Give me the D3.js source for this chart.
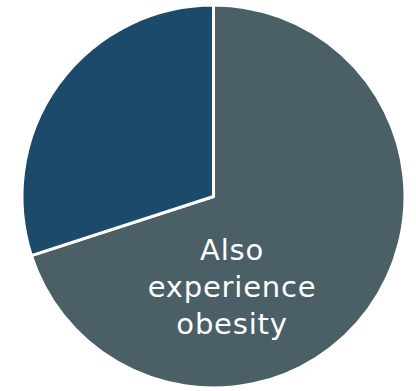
<!DOCTYPE html>
<html>
<head>
<meta charset="utf-8">
<script src="https://cdn.jsdelivr.net/npm/d3@7"></script>
<style>
  html, body { margin: 0; padding: 0; background: #ffffff; }
  svg { display: block; }
</style>
</head>
<body>
<svg id="chart" width="416" height="391"></svg>
<script>
const categories = ["Also experience obesity", "Other"];
const values = [70, 30];
const colors = ["#4b5f67", "#1c4a6a"];
const labelLines = ["Also", "experience", "obesity"];

const svg = d3.select("#chart");
const cx = 213.5, cy = 196.5, r = 191.5;
const g = svg.append("g").attr("transform", `translate(${cx},${cy})`);

const pie = d3.pie().sort(null).value(d => d)(values);
const arc = d3.arc().innerRadius(0).outerRadius(r);
const color = d3.scaleOrdinal().domain(categories).range(colors);

g.selectAll("path.slice")
  .data(pie)
  .join("path")
  .attr("class", "slice")
  .attr("d", arc)
  .attr("fill", (d, i) => color(categories[i]))
  .attr("stroke", "#ffffff")
  .attr("stroke-width", 3)
  .attr("stroke-linejoin", "round");

// label
const text = svg.append("text")
  .attr("x", 232)
  .attr("y", 260)
  .attr("text-anchor", "middle")
  .attr("fill", "#ffffff")
  .style("font-family", "'DejaVu Sans', sans-serif")
  .style("font-size", "29px")
  .style("letter-spacing", "0.8px");
text.selectAll("tspan")
  .data(labelLines)
  .join("tspan")
  .attr("x", 232)
  .attr("dy", (d, i) => i === 0 ? 0 : 37)
  .text(d => d);
</script>
</body>
</html>
